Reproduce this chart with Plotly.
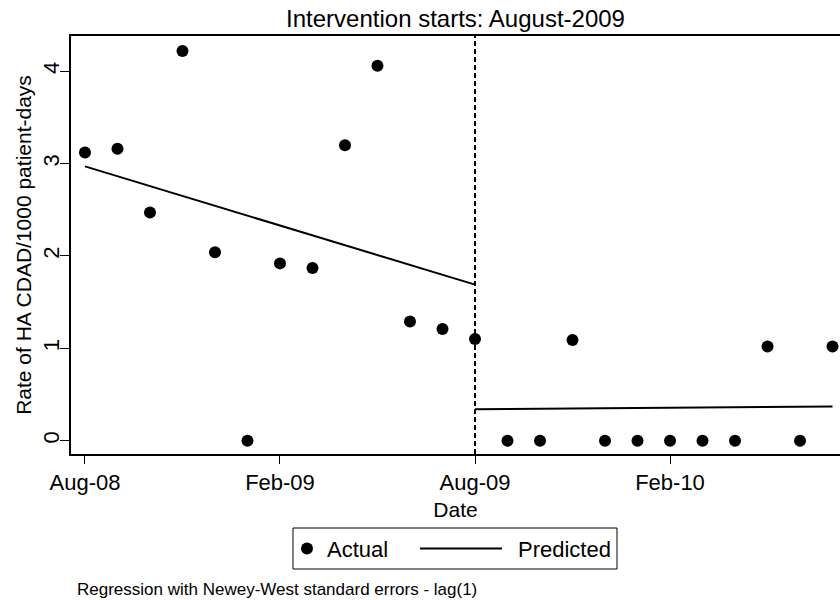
import plotly.graph_objects as go

# ---- data ----
months = ["Aug-08", "Sep-08", "Oct-08", "Nov-08", "Dec-08", "Jan-09",
          "Feb-09", "Mar-09", "Apr-09", "May-09", "Jun-09", "Jul-09",
          "Aug-09", "Sep-09", "Oct-09", "Nov-09", "Dec-09", "Jan-10",
          "Feb-10", "Mar-10", "Apr-10", "May-10", "Jun-10", "Jul-10"]
actual = [3.12, 3.16, 2.47, 4.22, 2.04, 0.0,
          1.92, 1.87, 3.20, 4.06, 1.29, 1.21,
          1.10, 0.0, 0.0, 1.09, 0.0, 0.0,
          0.0, 0.0, 0.0, 1.02, 0.0, 1.02]
pred_pre_months = ["Aug-08", "Aug-09"]
pred_pre_values = [2.97, 1.69]
pred_post_months = ["Aug-09", "Jul-10"]
pred_post_values = [0.34, 0.37]
tick_labels = ["Aug-08", "Feb-09", "Aug-09", "Feb-10"]
intervention = "Aug-09"
legend_labels = ["Actual", "Predicted"]

idx = {m: i for i, m in enumerate(months)}
x_actual = [idx[m] for m in months]
x_pred = [idx[m] for m in pred_pre_months] + [None] + [idx[m] for m in pred_post_months]
y_pred = pred_pre_values + [None] + pred_post_values

FONT = "Liberation Sans, Arial, sans-serif"

# plot-area geometry (pixels) used for placing the hand-made legend and note
L, R, T, B = 71, 840, 36, 454


def px(xp):
    return (xp - L) / (R - L)


def py(yp):
    return (B - yp) / (B - T)


fig = go.Figure()
fig.add_trace(go.Scatter(
    x=x_actual, y=actual, mode="markers", name=legend_labels[0],
    marker=dict(color="black", size=12, line=dict(width=0)),
    cliponaxis=False,
))
fig.add_trace(go.Scatter(
    x=x_pred, y=y_pred, mode="lines", name=legend_labels[1],
    line=dict(color="black", width=2),
))

fig.add_shape(type="line", xref="x", yref="paper",
              x0=idx[intervention], x1=idx[intervention], y0=0, y1=1,
              line=dict(color="black", width=2, dash="5px,3px"), layer="below")

# legend box (Stata style)
fig.add_shape(type="rect", xref="paper", yref="paper",
              x0=px(293), x1=px(617), y0=py(528), y1=py(569),
              line=dict(color="black", width=1), fillcolor="white")
fig.add_shape(type="circle", xref="paper", yref="paper",
              xsizemode="pixel", ysizemode="pixel",
              xanchor=px(307), yanchor=py(548.5),
              x0=-6, x1=6, y0=-6, y1=6,
              line=dict(color="black", width=0), fillcolor="black")
fig.add_shape(type="line", xref="paper", yref="paper",
              x0=px(420), x1=px(502), y0=py(548.5), y1=py(548.5),
              line=dict(color="black", width=2))
fig.add_annotation(text=legend_labels[0], xref="paper", yref="paper",
                   x=px(325), y=py(549), xanchor="left", yanchor="middle",
                   showarrow=False, font=dict(size=22, family=FONT, color="black"))
fig.add_annotation(text=legend_labels[1], xref="paper", yref="paper",
                   x=px(516), y=py(549), xanchor="left", yanchor="middle",
                   showarrow=False, font=dict(size=22, family=FONT, color="black"))

fig.add_annotation(text="Regression with Newey-West standard errors - lag(1)",
                   xref="paper", yref="paper", x=px(75), y=py(589),
                   xanchor="left", yanchor="middle", showarrow=False,
                   font=dict(size=17, family=FONT, color="black"))

fig.update_layout(
    width=840, height=600,
    margin=dict(l=L, r=840 - R, t=T, b=600 - B),
    paper_bgcolor="white", plot_bgcolor="white",
    font=dict(family=FONT, color="black"),
    title=dict(text="Intervention starts: August-2009", x=0.5, xref="paper",
               xanchor="center", y=1 - 19 / 600, yref="container", yanchor="middle",
               font=dict(size=24, family=FONT, color="black")),
    showlegend=False,
    xaxis=dict(
        range=[-0.43, 23.23], showgrid=False, zeroline=False,
        tickmode="array", tickvals=[idx[t] for t in tick_labels], ticktext=tick_labels,
        ticks="outside", ticklen=8, tickwidth=1, tickcolor="black",
        showline=True, linecolor="black", linewidth=1.5, mirror=True,
        tickfont=dict(size=22, family=FONT, color="black"),
        title=dict(text="Date", standoff=8, font=dict(size=21, family=FONT, color="black")),
    ),
    yaxis=dict(
        range=[-0.144, 4.382], showgrid=False, zeroline=False,
        tickmode="array", tickvals=[0, 1, 2, 3, 4],
        ticks="outside", ticklen=9, tickwidth=1, tickcolor="black",
        tickangle=-90, ticklabelstandoff=-8,
        showline=True, linecolor="black", linewidth=1.5,
        tickfont=dict(size=22, family=FONT, color="black"),
        title=dict(text="Rate of HA CDAD/1000 patient-days", standoff=2,
                   font=dict(size=21, family=FONT, color="black")),
    ),
)

fig.write_html("out.html",
               config={"displayModeBar": False},
               post_script="document.body.style.margin='0';"
                           "document.body.style.overflow='hidden';")
